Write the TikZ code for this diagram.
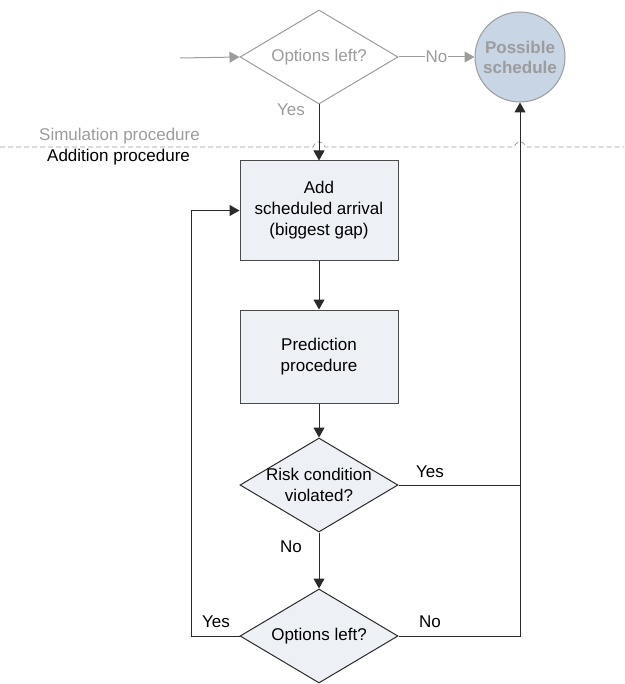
\documentclass[tikz,border=0pt]{standalone}
\usepackage{fontspec}
\setmainfont{Liberation Sans}
\usetikzlibrary{shapes.geometric,arrows.meta}

\definecolor{simgray}{HTML}{9C9C9C}
\definecolor{boxfill}{HTML}{EDF0F5}
\definecolor{endfill}{HTML}{C8D5E5}
\definecolor{linegray}{HTML}{2A2A2A}

\tikzset{
    every node/.style={font=\fontsize{17}{21}\selectfont},
    flow/.style={draw=linegray, line width=1pt, -{Triangle[length=10pt,width=11pt]}},
    plain/.style={draw=linegray, line width=1pt},
    simflow/.style={draw=simgray, line width=1pt, -{Triangle[length=10pt,width=11pt]}},
    procbox/.style={rectangle, draw=linegray!85, fill=boxfill, line width=1pt,
        minimum width=158pt, align=center},
    decision/.style={diamond, draw=linegray, fill=boxfill, line width=1pt,
        minimum width=158pt, minimum height=94pt, inner sep=0pt},
}

\begin{document}
\begin{tikzpicture}[x=1pt,y=-1pt]
    \useasboundingbox (0,0) rectangle (624,684);

    % Procedimiento de simulación (gris)
    \coordinate (entry) at (180,58);
    \node[decision, draw=simgray, fill=white] (opt1) at (319,57) {};
    \node[text=simgray] (opt1txt) at (opt1) {Options left?};
    \node[circle, draw=simgray, fill=endfill, line width=1pt, minimum size=90pt,
        inner sep=0pt, align=center, text=simgray,
        font=\fontsize{17}{20}\selectfont\bfseries] (sched) at (520,57) {Possible\\schedule};

    \draw[simflow] (entry) -- (opt1.west);
    \draw[simflow] (opt1.east) -- node[fill=white, inner sep=1pt, text=simgray] (nolbl1) {No} (sched.west);
    \node[text=simgray] (yeslbl1) at (291,110) {Yes};

    % Límite entre los procedimientos
    \draw[simgray, line width=0.8pt, dash pattern=on 5pt off 3pt]
        (0,147) -- (313,147) .. controls (316,140) and (322,140) .. (325,147)
        -- (514,147) .. controls (517,140) and (523,140) .. (526,147) -- (624,147);
    \node[anchor=west, text=simgray, inner sep=0pt] (simtxt) at (39,136) {Simulation procedure};
    \node[anchor=west, inner sep=0pt] (addtxt) at (47,157) {Addition procedure};

    % Procedimiento de adición
    \node[procbox, minimum height=99pt] (add) at (319,210.5) {Add\\scheduled arrival\\(biggest gap)};
    \node[procbox, minimum height=93pt] (pred) at (319,356.5) {Prediction\\procedure};
    \node[decision] (risk) at (319,485) {};
    \node[align=center] (risktxt) at (risk) {Risk condition\\violated?};
    \node[decision] (opt2) at (319,636) {};
    \node (opt2txt) at (opt2) {Options left?};

    \coordinate (rjoin) at (risk.east -| sched.south);
    \coordinate (loopx) at (191,636);

    \draw[flow] (opt1.south) -- (add.north);
    \draw[flow] (add.south) -- (pred.north);
    \draw[flow] (pred.south) -- (risk.north);
    \draw[flow] (risk.south) -- (opt2.north);
    \draw[flow] (risk.east) -- (rjoin) -- (sched.south);
    \draw[plain] (opt2.east) -| (rjoin);
    \draw[flow] (opt2.west) -- (loopx) |- (add.west);

    \node (yeslbl2) at (430,472) {Yes};
    \node (nolbl2) at (291,547) {No};
    \node (yeslbl3) at (216,622) {Yes};
    \node (nolbl3) at (430,622) {No};
\end{tikzpicture}
\end{document}
